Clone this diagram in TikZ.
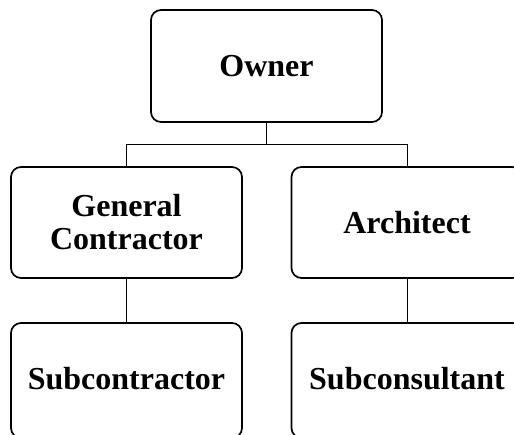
\documentclass[tikz,border=0pt]{standalone}
\usepackage{fontspec}
\setmainfont{Liberation Serif}
\begin{document}
\begin{tikzpicture}[x=1pt,y=-1pt,
  box/.style={draw=black, line width=1.7pt, rounded corners=10pt, minimum width=231pt, minimum height=111pt, inner sep=0pt, align=center, font=\fontsize{32}{33}\selectfont\bfseries},
  bottombox/.style={box, minimum height=115pt, text depth=4pt},
  link/.style={draw=black, line width=0.9pt}]
\useasboundingbox (0,0) rectangle (514,434);
\node[box, minimum height=112pt] (owner) at (266.5,66) {Owner};
\node[box] (gc) at (126.5,222.5) {General\\Contractor};
\node[box] (arch) at (407,222.5) {Architect};
\node[bottombox] (sub) at (126.5,380.5) {Subcontractor};
\node[bottombox] (subc) at (407,380.5) {Subconsultant};
\coordinate (jl) at (126.5,144);
\coordinate (jr) at (407,144);
\draw[link] (owner.south) -- (owner.south |- jl);
\draw[link] (gc.north) -- (jl) -- (jr) -- (arch.north);
\draw[link] (gc.south) -- (sub.north);
\draw[link] (arch.south) -- (subc.north);
\end{tikzpicture}
\end{document}
